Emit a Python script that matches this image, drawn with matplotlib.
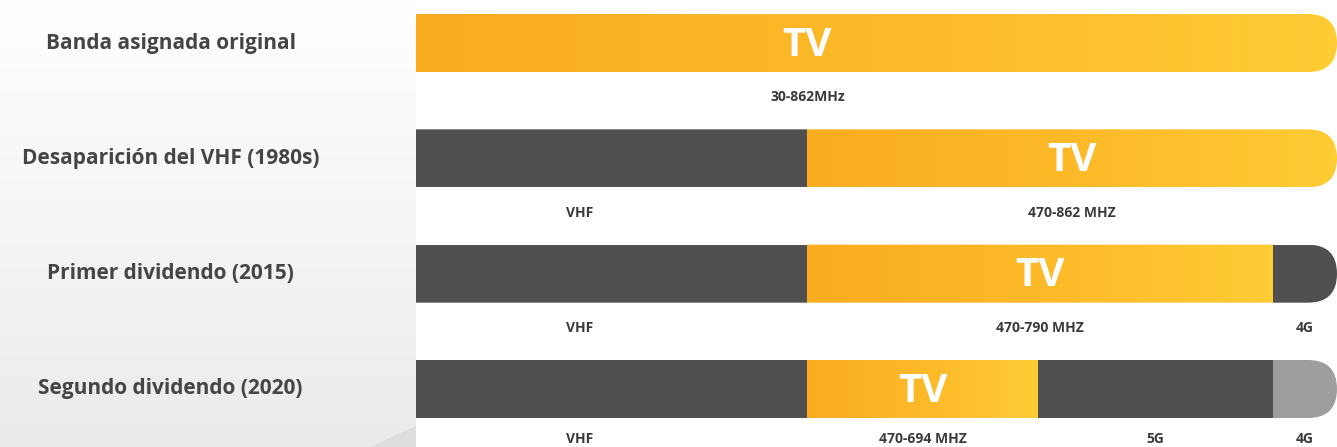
import numpy as np
import matplotlib
matplotlib.use('Agg')
import matplotlib.pyplot as plt
from matplotlib.patches import FancyBboxPatch, Polygon
from matplotlib.transforms import IdentityTransform
from matplotlib.colors import LinearSegmentedColormap

plt.rcParams['font.family'] = ['Open Sans', 'DejaVu Sans']

# rows (top to bottom)
rows = ['Banda asignada original', 'Desaparición del VHF (1980s)',
        'Primer dividendo (2015)', 'Segundo dividendo (2020)']

# band segments on a 0-100 relative scale
seg_row = [0, 1, 1, 2, 2, 2, 3, 3, 3, 3]
seg_left = [0, 0, 42.5, 0, 42.5, 93, 0, 42.5, 67.5, 93]
seg_right = [100, 42.5, 100, 42.5, 93, 100, 42.5, 67.5, 93, 100]
seg_kind = ['tv', 'vhf', 'tv', 'vhf', 'tv', '4g', 'vhf', 'tv', '5g', '4g']

# captions under the bars
cap_row = [0, 1, 1, 2, 2, 2, 3, 3, 3, 3]
cap_x = [42.5, 17.8, 71.25, 17.8, 67.75, 96.5, 17.8, 55, 80.25, 96.5]
cap_text = ['30-862MHz', 'VHF', '470-862 MHZ', 'VHF', '470-790 MHZ', '4G',
            'VHF', '470-694 MHZ', '5G', '4G']

# "TV" labels inside the bars
tv_row = [0, 1, 2, 3]
tv_x = [42.5, 71.25, 67.75, 55]

colors = {'vhf': '#505050', '5g': '#505050', '4g': '#505050'}
colors_last = {'4g': '#9e9e9e'}
tv_cmap = LinearSegmentedColormap.from_list('tv', ['#fbad22', '#fdb928', '#ffcc34'])

W, H = 1337, 447
fig = plt.figure(figsize=(W / 100, H / 100), dpi=100)
fig.patch.set_facecolor('white')

left_w = 416 / W
ylim = (3.503, -0.373)
bar_h = 0.503

# left panel with soft gray gradient
axl = fig.add_axes([0, 0, left_w, 1])
axl.set_xlim(0, 1)
axl.set_ylim(*ylim)
grad = np.linspace(0, 1, 200).reshape(-1, 1)
bg = LinearSegmentedColormap.from_list('bg', ['#ffffff', '#f5f5f5', '#ebebeb'])
axl.imshow(grad, cmap=bg, aspect='auto', extent=(0, 1, ylim[0], ylim[1]),
           origin='upper', zorder=0)
axl.add_patch(Polygon([(0.89, ylim[0]), (1.0, 3.32), (1.0, ylim[0])],
                      closed=True, facecolor='#dedede', edgecolor='none', zorder=1))
axl.axis('off')
for i, name in enumerate(rows):
    axl.text(0.41, i, name, ha='center', va='center', fontsize=15,
             fontweight='bold', color='#454545')

# main bars
ax = fig.add_axes([left_w, 0, 1 - left_w, 1])
ax.set_xlim(0, 100)
ax.set_ylim(*ylim)
ax.axis('off')

last_in_row = {}
for j, r in enumerate(seg_row):
    last_in_row[r] = j

# rounded right end for each bar
clips = {}
for r in range(len(rows)):
    (x0, y0), (x1, y1) = ax.transData.transform([(0, r + bar_h / 2), (100, r - bar_h / 2)])
    h = y1 - y0
    clips[r] = FancyBboxPatch((x0 - 100, y0), (x1 - x0) + 100, h,
                              boxstyle=f'round,pad=0,rounding_size={h / 2}',
                              transform=IdentityTransform())

for j in range(len(seg_row)):
    r = seg_row[j]
    kind = seg_kind[j]
    if kind == 'tv':
        im = ax.imshow(np.linspace(0, 1, 100).reshape(1, -1), cmap=tv_cmap,
                       aspect='auto', extent=(seg_left[j], seg_right[j],
                                              r + bar_h / 2, r - bar_h / 2),
                       zorder=2)
        im.set_clip_path(clips[r])
    else:
        c = colors_last[kind] if (j == last_in_row[r] and r == 3) else colors[kind]
        bars = ax.barh(r, seg_right[j] - seg_left[j], left=seg_left[j], height=bar_h,
                       color=c, linewidth=0, zorder=2)
        for b in bars:
            b.set_clip_path(clips[r])

ax.set_xlim(0, 100)
ax.set_ylim(*ylim)

for r, x in zip(tv_row, tv_x):
    ax.text(x, r + 0.02, 'TV', ha='center', va='center', fontsize=29,
            fontweight='bold', color='white', zorder=3)

for r, x, t in zip(cap_row, cap_x, cap_text):
    dy = 0.47 if r < 3 else 0.43
    ax.text(x, r + dy, t, ha='center', va='center', fontsize=10,
            fontweight='bold', color='#3a3a3a', zorder=3)

fig.savefig('out.png', dpi=100)
